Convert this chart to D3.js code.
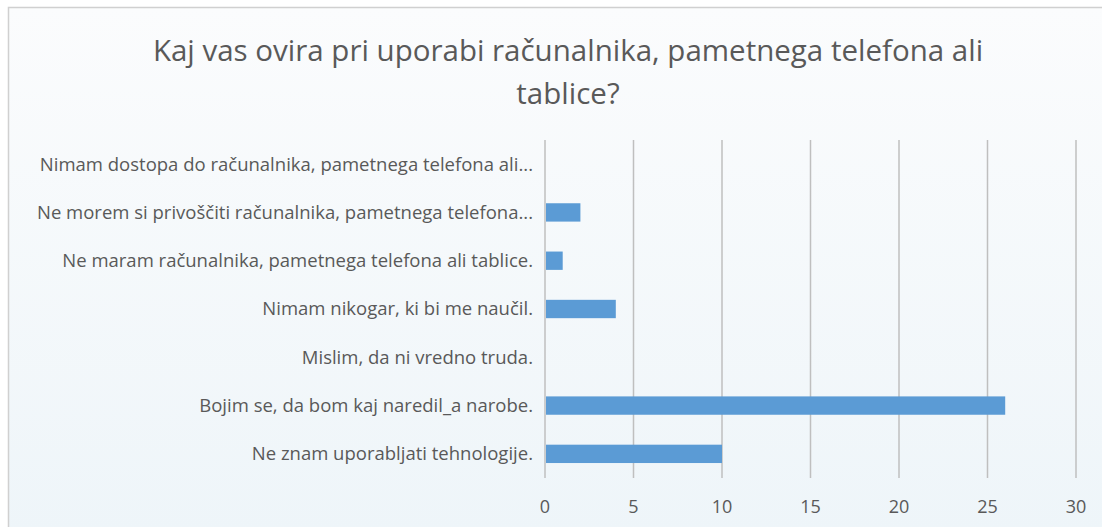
<!DOCTYPE html>
<html>
<head>
<meta charset="utf-8">
<script src="https://cdn.jsdelivr.net/npm/d3@7"></script>
<style>
  body { margin: 0; background: #fff; }
  svg { display: block; }
</style>
</head>
<body>
<svg id="chart" width="1102" height="527"></svg>
<script>
// data
const titleLines = ["Kaj vas ovira pri uporabi računalnika, pametnega telefona ali", "tablice?"]
const categories = [
    "Nimam dostopa do računalnika, pametnega telefona ali...",
    "Ne morem si privoščiti računalnika, pametnega telefona...",
    "Ne maram računalnika, pametnega telefona ali tablice.",
    "Nimam nikogar, ki bi me naučil.",
    "Mislim, da ni vredno truda.",
    "Bojim se, da bom kaj naredil_a narobe.",
    "Ne znam uporabljati tehnologije."
]
const values = [0, 2, 1, 4, 0, 26, 10]
const xTicks = [0, 5, 10, 15, 20, 25, 30]

const width = 1102, height = 527
const margin = { top: 140, right: 26, bottom: 49, left: 545 }
const textColor = "#595959"
const font = "'Open Sans', sans-serif"

const svg = d3.select("#chart")

// background + frame
const defs = svg.append("defs")
const grad = defs.append("linearGradient")
    .attr("id", "bg").attr("x1", 0).attr("y1", 0).attr("x2", 0).attr("y2", 1)
grad.append("stop").attr("offset", "0%").attr("stop-color", "#fbfcfd")
grad.append("stop").attr("offset", "100%").attr("stop-color", "#eef5f9")

svg.append("rect")
    .attr("x", 8.5).attr("y", 7.5)
    .attr("width", width).attr("height", height)
    .attr("fill", "url(#bg)")
    .attr("stroke", "#d0d0d0")
    .attr("stroke-width", 1.5)

// title
svg.append("g")
    .selectAll("text")
    .data(titleLines)
    .join("text")
    .attr("x", 568)
    .attr("y", (d, i) => 61 + i * 43)
    .attr("text-anchor", "middle")
    .attr("fill", textColor)
    .style("font-family", font)
    .style("font-size", "29.5px")
    .text(d => d)

const innerW = width - margin.left - margin.right
const innerH = height - margin.top - margin.bottom

const xScale = d3.scaleLinear()
    .domain([0, 30])
    .range([0, innerW])

const yScale = d3.scaleBand()
    .domain(categories)
    .range([0, innerH])
    .paddingInner(0.62)
    .paddingOuter(0.31)

const g = svg.append("g")
    .attr("transform", `translate(${margin.left},${margin.top})`)

// vertical gridlines
g.append("g")
    .selectAll("line")
    .data(xTicks)
    .join("line")
    .attr("x1", d => xScale(d))
    .attr("x2", d => xScale(d))
    .attr("y1", 0)
    .attr("y2", innerH)
    .attr("stroke", "#bfbfbf")
    .attr("stroke-width", 1.5)

// bars
g.append("g")
    .selectAll("rect")
    .data(values)
    .join("rect")
    .attr("x", xScale(0) + 1)
    .attr("y", (d, i) => yScale(categories[i]))
    .attr("width", d => Math.max(0, xScale(d) - xScale(0) - 1))
    .attr("height", yScale.bandwidth())
    .attr("fill", "#5b9bd5")

// x tick labels
g.append("g")
    .selectAll("text")
    .data(xTicks)
    .join("text")
    .attr("x", d => xScale(d))
    .attr("y", innerH + 35)
    .attr("text-anchor", "middle")
    .attr("fill", textColor)
    .style("font-family", font)
    .style("font-size", "18px")
    .text(d => d)

// category labels
g.append("g")
    .selectAll("text")
    .data(categories)
    .join("text")
    .attr("x", -12)
    .attr("y", d => yScale(d) + yScale.bandwidth() / 2)
    .attr("dy", "0.35em")
    .attr("text-anchor", "end")
    .attr("fill", textColor)
    .style("font-family", font)
    .style("font-size", "18.5px")
    .text(d => d)
</script>
</body>
</html>
